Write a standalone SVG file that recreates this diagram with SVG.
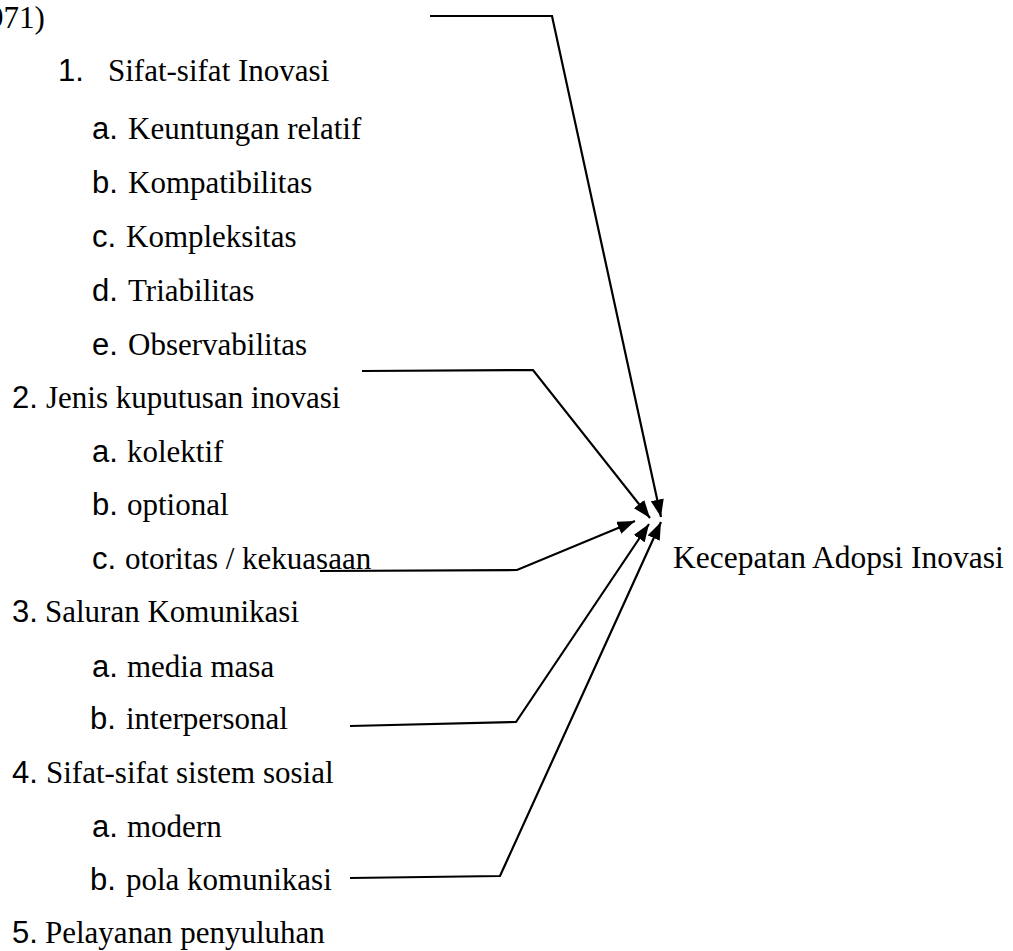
<svg xmlns="http://www.w3.org/2000/svg" width="1013" height="951" viewBox="0 0 1013 951">
<style>
.t{font-family:"Liberation Serif","Times New Roman",serif;font-size:31px;fill:#000}
.s{font-family:"Liberation Sans",Arial,sans-serif;font-size:31px;fill:#000}
.c{fill:none;stroke:#000;stroke-width:2.2;stroke-linejoin:miter}
</style>
<defs>
<marker id="ah" viewBox="0 0 8 6" markerWidth="8" markerHeight="6" refX="8" refY="3" orient="auto" markerUnits="strokeWidth">
<path d="M0,0 L8,3 L0,6 z" fill="#000"/>
</marker>
</defs>
<rect width="1013" height="951" fill="#fff"/>
<g id="src-year"><text class="t" x="-12" y="28">971)</text></g>
<g id="n1"><text class="s" x="58" y="81">1.</text><text class="t" x="108" y="81">Sifat-sifat Inovasi</text></g>
<g id="n1a"><text class="s" x="92" y="139">a.</text><text class="t" x="128" y="139">Keuntungan relatif</text></g>
<g id="n1b"><text class="s" x="92" y="193">b.</text><text class="t" x="128" y="193">Kompatibilitas</text></g>
<g id="n1c"><text class="s" x="92" y="247">c.</text><text class="t" x="126" y="247">Kompleksitas</text></g>
<g id="n1d"><text class="s" x="92" y="301">d.</text><text class="t" x="128" y="301">Triabilitas</text></g>
<g id="n1e"><text class="s" x="92" y="355">e.</text><text class="t" x="128" y="355">Observabilitas</text></g>
<g id="n2"><text class="s" x="12" y="408">2.</text><text class="t" x="46" y="408">Jenis kuputusan inovasi</text></g>
<g id="n2a"><text class="s" x="92" y="462">a.</text><text class="t" x="127" y="462">kolektif</text></g>
<g id="n2b"><text class="s" x="92" y="515">b.</text><text class="t" x="127" y="515">optional</text></g>
<g id="n2c"><text class="s" x="92" y="569">c.</text><text class="t" x="125" y="569">otoritas / kekuasaan</text></g>
<g id="n3"><text class="s" x="12" y="622">3.</text><text class="t" x="45" y="622">Saluran Komunikasi</text></g>
<g id="n3a"><text class="s" x="92" y="677">a.</text><text class="t" x="127" y="677">media masa</text></g>
<g id="n3b"><text class="s" x="90" y="729">b.</text><text class="t" x="126" y="729">interpersonal</text></g>
<g id="n4"><text class="s" x="12" y="783">4.</text><text class="t" x="46" y="783">Sifat-sifat sistem sosial</text></g>
<g id="n4a"><text class="s" x="92" y="837">a.</text><text class="t" x="127" y="837">modern</text></g>
<g id="n4b"><text class="s" x="90" y="890">b.</text><text class="t" x="126" y="890">pola komunikasi</text></g>
<g id="n5"><text class="s" x="12" y="943">5.</text><text class="t" x="45" y="943">Pelayanan penyuluhan</text></g>
<g id="target"><text class="t" x="673" y="568" style="font-size:31.5px">Kecepatan Adopsi Inovasi</text></g>
<g id="connectors">
<polyline class="c" points="430,16 552,16 661,517" marker-end="url(#ah)"/>
<polyline class="c" points="362,371 533,370 650,518" marker-end="url(#ah)"/>
<polyline class="c" points="320,571 517,570 635,521" marker-end="url(#ah)"/>
<polyline class="c" points="350,726 516,722 649,524" marker-end="url(#ah)"/>
<polyline class="c" points="350,878 500,876 661,522" marker-end="url(#ah)"/>
</g>
</svg>
